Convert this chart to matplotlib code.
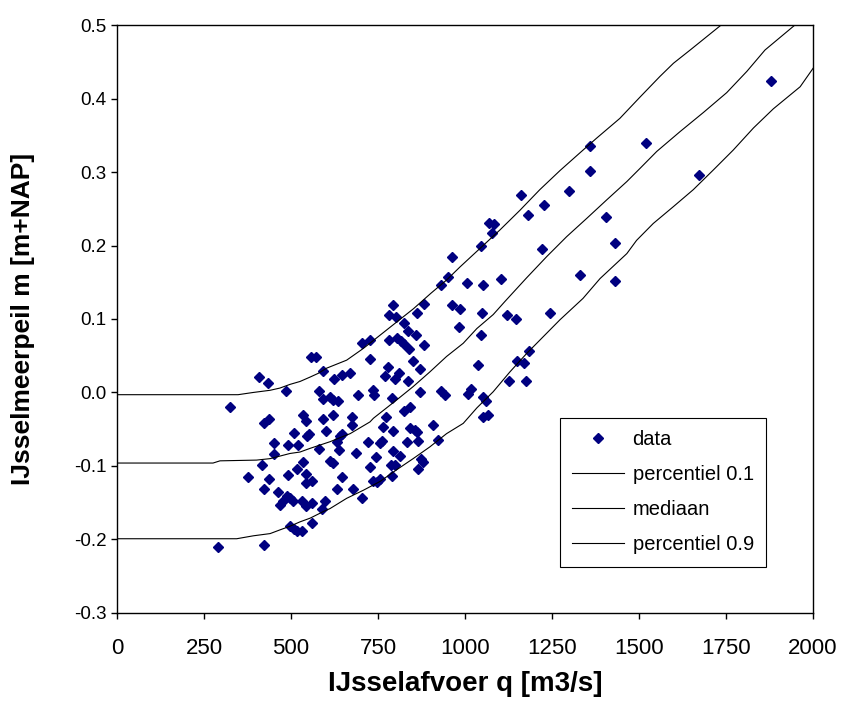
import matplotlib.pyplot as plt
from matplotlib.ticker import MultipleLocator, FormatStrFormatter

plt.rcParams['font.family'] = ['Liberation Sans', 'DejaVu Sans']

# Waarnemingen: IJsselafvoer q [m3/s] en IJsselmeerpeil m [m+NAP]
q_data = [1880, 1673, 1519, 1358, 1358, 1300, 1226, 1162, 1180, 1404,
          1432, 1220, 1329, 1432, 1243, 1070, 1083, 1077, 1047, 962,
          950, 932, 1007, 1053, 1104, 881, 863, 962, 985, 1048,
          1122, 1146, 984, 1047, 825, 835, 858, 815, 825, 804,
          783, 794, 782, 801, 840, 881, 703, 727, 726, 851,
          871, 778, 810, 771, 800, 835, 1185, 1150, 1170, 1036,
          1127, 1174, 871, 930, 943, 1017, 1009, 1052, 1059, 842,
          825, 1053, 1067, 909, 842, 856, 861, 834, 865, 921,
          813, 873, 878, 864, 557, 573, 593, 409, 433, 485,
          581, 593, 612, 622, 634, 624, 646, 670, 693, 737,
          738, 789, 324, 422, 437, 535, 542, 593, 621, 674,
          674, 773, 765, 794, 509, 601, 553, 545, 648, 642,
          451, 490, 519, 632, 720, 756, 761, 451, 416, 581,
          637, 687, 743, 794, 788, 799, 727, 612, 620, 535,
          518, 376, 438, 490, 543, 543, 559, 646, 737, 746,
          756, 789, 422, 462, 489, 478, 468, 497, 505, 531,
          544, 559, 599, 589, 631, 679, 703, 496, 510, 518,
          532, 559, 289, 422]
m_data = [0.424, 0.296, 0.339, 0.336, 0.301, 0.274, 0.255, 0.269, 0.241, 0.239,
          0.203, 0.195, 0.160, 0.152, 0.108, 0.231, 0.229, 0.217, 0.200, 0.184,
          0.157, 0.146, 0.149, 0.146, 0.154, 0.121, 0.108, 0.119, 0.113, 0.108,
          0.105, 0.100, 0.089, 0.078, 0.094, 0.084, 0.078, 0.070, 0.066, 0.074,
          0.072, 0.119, 0.106, 0.103, 0.059, 0.064, 0.067, 0.072, 0.046, 0.043,
          0.032, 0.035, 0.027, 0.023, 0.019, 0.015, 0.056, 0.043, 0.040, 0.037,
          0.016, 0.016, 0.000, 0.002, -0.003, 0.005, -0.002, -0.006, -0.012, -0.020,
          -0.025, -0.033, -0.031, -0.044, -0.049, -0.051, -0.054, -0.068, -0.066, -0.064,
          -0.087, -0.090, -0.094, -0.104, 0.048, 0.048, 0.029, 0.021, 0.013, 0.002,
          0.002, -0.009, -0.006, -0.010, -0.012, 0.018, 0.024, 0.026, -0.003, 0.003,
          -0.003, -0.008, -0.020, -0.041, -0.036, -0.030, -0.039, -0.036, -0.030, -0.033,
          -0.044, -0.033, -0.047, -0.053, -0.055, -0.052, -0.056, -0.059, -0.056, -0.059,
          -0.069, -0.071, -0.071, -0.067, -0.068, -0.069, -0.066, -0.084, -0.099, -0.077,
          -0.078, -0.082, -0.088, -0.080, -0.099, -0.099, -0.101, -0.093, -0.096, -0.095,
          -0.104, -0.115, -0.118, -0.112, -0.111, -0.123, -0.120, -0.115, -0.120, -0.122,
          -0.118, -0.113, -0.131, -0.136, -0.141, -0.147, -0.153, -0.143, -0.147, -0.148,
          -0.154, -0.150, -0.147, -0.159, -0.132, -0.131, -0.143, -0.182, -0.186, -0.189,
          -0.189, -0.178, -0.210, -0.208]

# percentiel 0.1 (onderste lijn)
q_p10 = [0, 344, 392, 440, 468, 497, 526, 555, 593, 612, 660, 708, 756, 804,
         851, 899, 947, 995, 1034, 1081, 1129, 1177, 1225, 1273, 1339, 1388,
         1465, 1493, 1541, 1599, 1656, 1714, 1771, 1829, 1886, 1963, 2000]
m_p10 = [-0.199, -0.199, -0.195, -0.192, -0.187, -0.182, -0.176, -0.171, -0.162,
         -0.158, -0.144, -0.133, -0.121, -0.105, -0.090, -0.074, -0.056, -0.042,
         -0.021, 0.001, 0.028, 0.053, 0.076, 0.099, 0.128, 0.155, 0.189, 0.207,
         0.230, 0.253, 0.276, 0.303, 0.330, 0.360, 0.386, 0.416, 0.441]

# mediaan
q_med = [0, 276, 296, 401, 440, 497, 526, 555, 593, 612, 670, 727, 737, 804,
         851, 899, 947, 995, 1034, 1081, 1115, 1177, 1235, 1292, 1350, 1407,
         1465, 1503, 1551, 1618, 1685, 1752, 1810, 1862, 1948]
m_med = [-0.096, -0.096, -0.093, -0.092, -0.090, -0.083, -0.081, -0.076, -0.070,
         -0.067, -0.056, -0.040, -0.035, -0.010, 0.008, 0.028, 0.049, 0.067,
         0.087, 0.106, 0.124, 0.156, 0.185, 0.212, 0.237, 0.262, 0.287, 0.305,
         0.328, 0.355, 0.381, 0.408, 0.437, 0.466, 0.500]

# percentiel 0.9 (bovenste lijn)
q_p90 = [0, 348, 391, 440, 468, 497, 526, 555, 578, 602, 660, 708, 756, 804,
         852, 902, 947, 986, 1043, 1100, 1158, 1215, 1273, 1330, 1378, 1445,
         1503, 1560, 1599, 1647, 1736]
m_p90 = [-0.003, -0.003, 0.000, 0.003, 0.006, 0.011, 0.015, 0.021, 0.026, 0.033,
         0.044, 0.060, 0.078, 0.096, 0.114, 0.135, 0.153, 0.171, 0.196, 0.221,
         0.248, 0.276, 0.302, 0.326, 0.346, 0.373, 0.402, 0.430, 0.448, 0.466,
         0.500]

fig = plt.figure(figsize=(8.44, 7.13), dpi=100)
ax = fig.add_axes([0.1386, 0.1403, 0.8247, 0.8246])

ax.plot(q_data, m_data, linestyle='none', marker='D', markersize=5.5,
        color='#000080', label='data')
ax.plot(q_p10, m_p10, color='black', lw=0.8, label='percentiel 0.1')
ax.plot(q_med, m_med, color='black', lw=0.8, label='mediaan')
ax.plot(q_p90, m_p90, color='black', lw=0.8, label='percentiel 0.9')

ax.set_xlim(0, 2000)
ax.set_ylim(-0.3, 0.5)
ax.xaxis.set_major_locator(MultipleLocator(250))
ax.yaxis.set_major_locator(MultipleLocator(0.1))
ax.yaxis.set_major_formatter(FormatStrFormatter('%.1f'))
ax.tick_params(direction='out', length=4.5, width=1)
ax.tick_params(axis='x', labelsize=16, pad=13.5)
ax.tick_params(axis='y', labelsize=13.5, pad=3)
for s in ax.spines.values():
    s.set_linewidth(1)
    s.set_color('black')

ax.set_xlabel('IJsselafvoer q [m3/s]', fontsize=20, fontweight='bold', labelpad=9)
ax.set_ylabel('IJsselmeerpeil m [m+NAP]', fontsize=19, fontweight='bold', labelpad=28)

leg = ax.legend(loc='upper left', bbox_to_anchor=(0.6365, 0.3316), borderaxespad=0,
                fontsize=14.5, fancybox=False, framealpha=1, edgecolor='black',
                handlelength=2.6, handletextpad=0.4, labelspacing=0.8,
                borderpad=0.6)
leg.get_frame().set_linewidth(0.8)

fig.savefig('out.png', dpi=100)
